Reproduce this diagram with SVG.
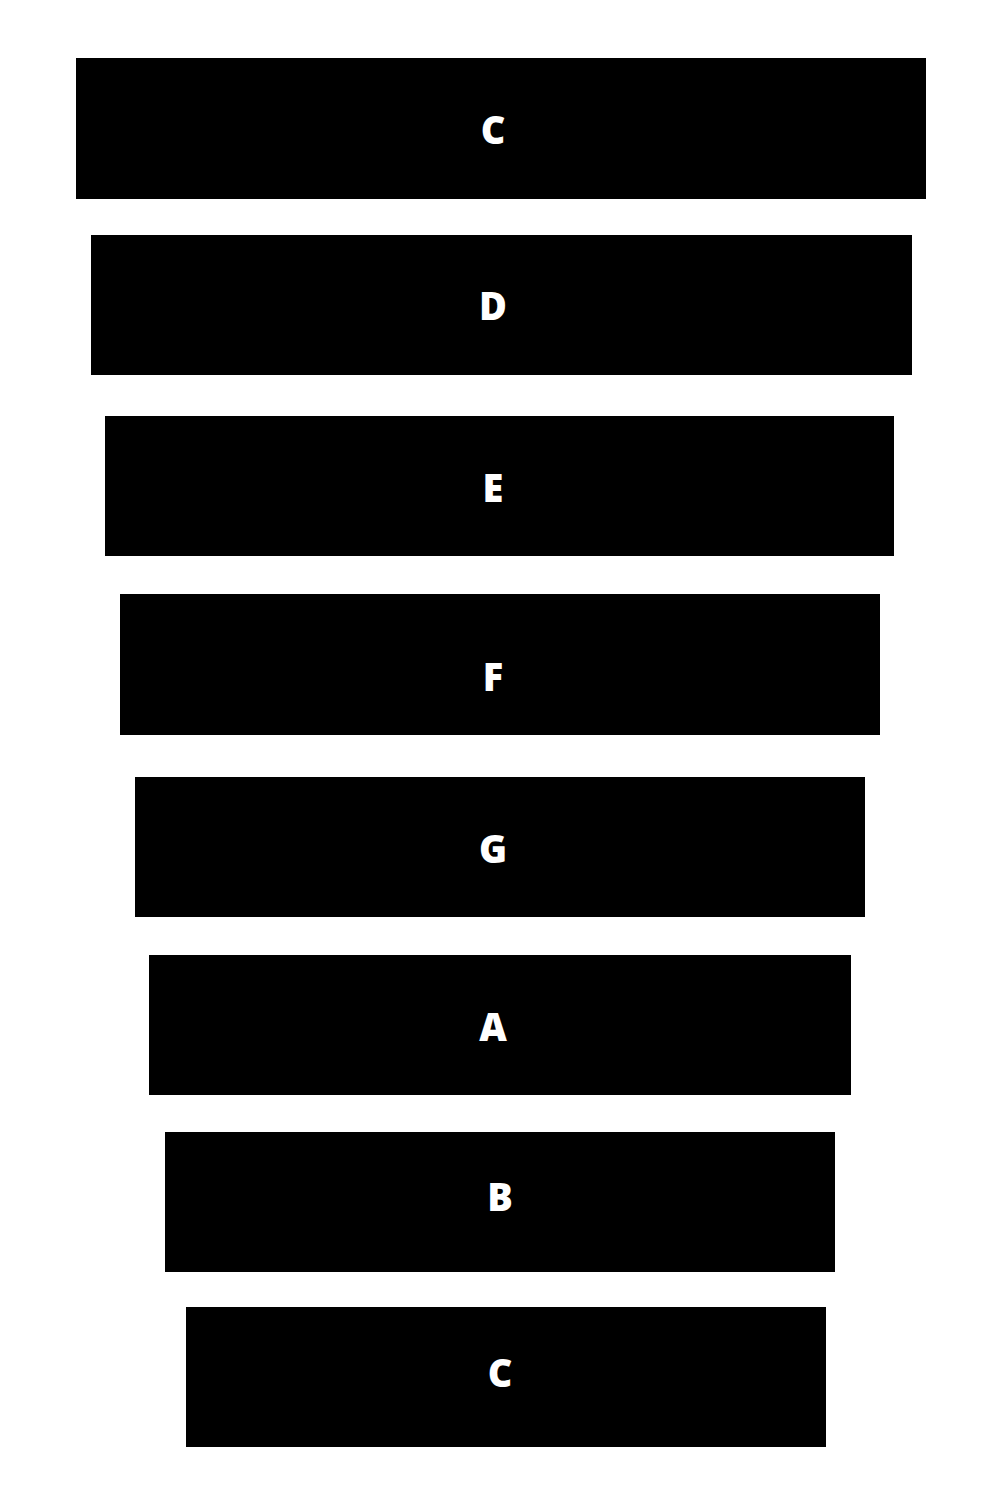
<svg xmlns="http://www.w3.org/2000/svg" width="1000" height="1500" viewBox="0 0 1000 1500">
<style>
.box{fill:#000;}
.lbl{fill:#fff;font-family:"Open Sans","Noto Sans",sans-serif;font-weight:800;font-size:38px;text-anchor:middle;}
</style>
<rect width="1000" height="1500" fill="#fff"/>
<g id="connectors"></g>
<g id="node1"><rect class="box" x="76" y="58" width="850" height="141"/><text class="lbl" x="493" y="144">C</text></g>
<g id="node2"><rect class="box" x="91" y="235" width="821" height="140"/><text class="lbl" x="493" y="320">D</text></g>
<g id="node3"><rect class="box" x="105" y="416" width="789" height="140"/><text class="lbl" x="493" y="502">E</text></g>
<g id="node4"><rect class="box" x="120" y="594" width="760" height="141"/><text class="lbl" x="493" y="691">F</text></g>
<g id="node5"><rect class="box" x="135" y="777" width="730" height="140"/><text class="lbl" x="493" y="863">G</text></g>
<g id="node6"><rect class="box" x="149" y="955" width="702" height="140"/><text class="lbl" x="493" y="1041">A</text></g>
<g id="node7"><rect class="box" x="165" y="1132" width="670" height="140"/><text class="lbl" x="500" y="1211">B</text></g>
<g id="node8"><rect class="box" x="186" y="1307" width="640" height="140"/><text class="lbl" x="500" y="1387">C</text></g>
</svg>
